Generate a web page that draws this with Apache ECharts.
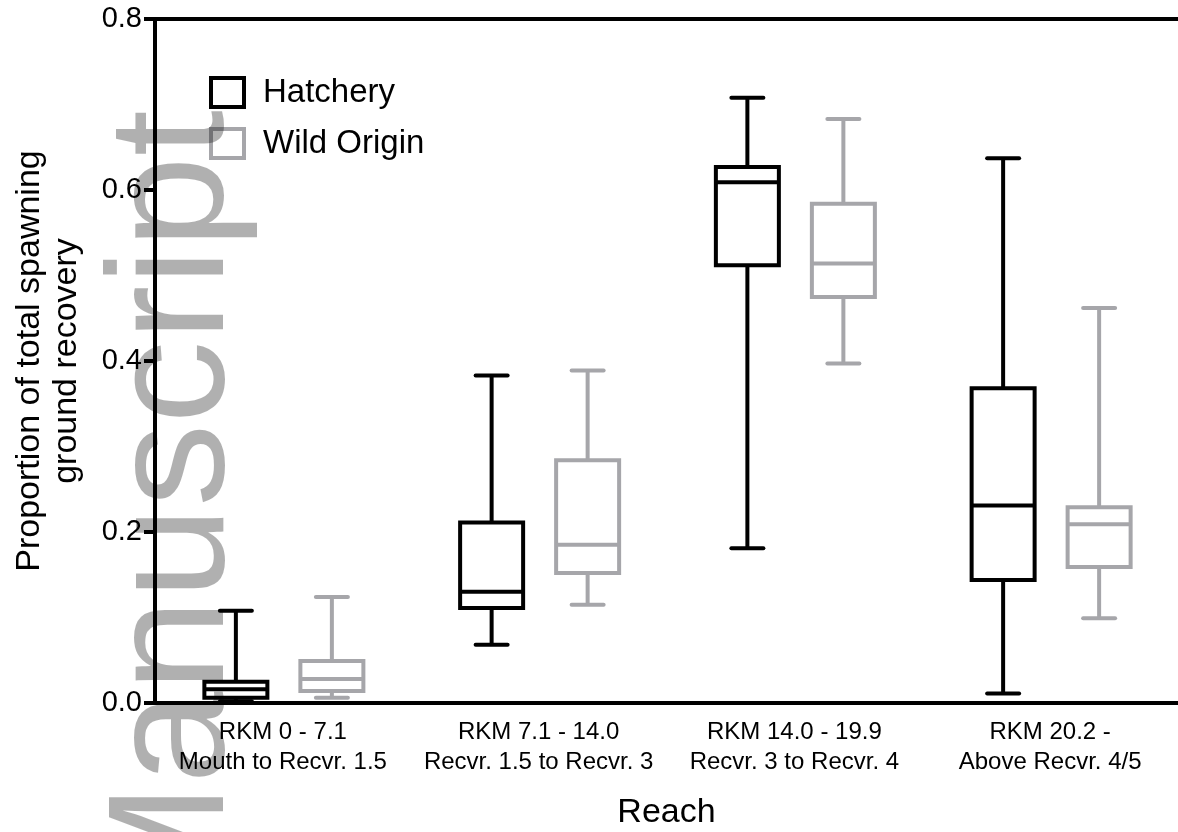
<!DOCTYPE html>
<html>
<head>
<meta charset="utf-8">
<script src="https://cdn.jsdelivr.net/npm/echarts@6/dist/echarts.min.js"></script>
<style>
html,body{margin:0;padding:0;background:#fff;}
#chart{width:1178px;height:832px;}
</style>
</head>
<body>
<div id="chart"></div>
<script>
// ---- data ----
var categories = [
  'RKM 0 - 7.1\nMouth to Recvr. 1.5',
  'RKM 7.1 - 14.0\nRecvr. 1.5 to Recvr. 3',
  'RKM 14.0 - 19.9\nRecvr. 3 to Recvr. 4',
  'RKM 20.2 -\nAbove Recvr. 4/5'
];
// [min, Q1, median, Q3, max]
var hatchery = [
  [0.002, 0.006, 0.016, 0.025, 0.108],
  [0.068, 0.111, 0.130, 0.211, 0.383],
  [0.181, 0.512, 0.609, 0.627, 0.708],
  [0.011, 0.144, 0.231, 0.368, 0.637]
];
var wild = [
  [0.006, 0.014, 0.028, 0.049, 0.124],
  [0.115, 0.152, 0.185, 0.284, 0.389],
  [0.397, 0.475, 0.514, 0.584, 0.683],
  [0.099, 0.159, 0.209, 0.229, 0.462]
];
var seriesNames = ['Hatchery', 'Wild Origin'];
var yTicks = [0, 0.2, 0.4, 0.6, 0.8];

// ---- styling ----
var FONT = '"Liberation Sans", Arial, Helvetica, sans-serif';
var BLACK = '#000000';
var GREY = '#a6a6aa';
var BOX_W = 63, CAP_W = 32, LW = 4;

function toRows(arr) {
  return arr.map(function (d, i) { return [i].concat(d); });
}

function makeRender(offset, color) {
  return function (params, api) {
    var c = api.value(0);
    var p = [1, 2, 3, 4, 5].map(function (k) { return api.coord([c, api.value(k)]); });
    var x = p[0][0] + offset;
    var yMin = p[0][1], yQ1 = p[1][1], yMed = p[2][1], yQ3 = p[3][1], yMax = p[4][1];
    var ls = { stroke: color, lineWidth: LW, fill: null };
    var cs = { stroke: color, lineWidth: LW, fill: null, lineCap: 'round' };
    return {
      type: 'group',
      children: [
        { type: 'line', shape: { x1: x, y1: yMax, x2: x, y2: yQ3 }, style: ls },
        { type: 'line', shape: { x1: x, y1: yQ1, x2: x, y2: yMin }, style: ls },
        { type: 'line', shape: { x1: x - CAP_W / 2, y1: yMax, x2: x + CAP_W / 2, y2: yMax }, style: cs },
        { type: 'line', shape: { x1: x - CAP_W / 2, y1: yMin, x2: x + CAP_W / 2, y2: yMin }, style: cs },
        { type: 'rect', shape: { x: x - BOX_W / 2, y: yQ3, width: BOX_W, height: yQ1 - yQ3 },
          style: { stroke: color, lineWidth: LW, fill: '#ffffff', lineJoin: 'miter' } },
        { type: 'line', shape: { x1: x - BOX_W / 2, y1: yMed, x2: x + BOX_W / 2, y2: yMed }, style: ls }
      ]
    };
  };
}

var chart = echarts.init(document.getElementById('chart'), null, { renderer: 'canvas' });
var option = {
  animation: false,
  backgroundColor: '#ffffff',
  textStyle: { fontFamily: FONT },
  grid: { left: 155, right: 0, top: 19, bottom: 129, containLabel: false, outerBoundsMode: 'none' },
  legend: {
    orient: 'vertical',
    left: 209, top: 76,
    padding: 0,
    itemWidth: 33, itemHeight: 29, itemGap: 18,
    icon: 'rect',
    textStyle: { fontSize: 33, color: '#000', fontFamily: FONT, padding: [0, 0, 0, 14] },
    data: [
      { name: seriesNames[0], itemStyle: { color: '#ffffff', borderColor: BLACK, borderWidth: LW } },
      { name: seriesNames[1], itemStyle: { color: '#ffffff', borderColor: GREY, borderWidth: LW } }
    ]
  },
  xAxis: [{
    type: 'category',
    data: categories,
    boundaryGap: true,
    name: 'Reach',
    nameLocation: 'middle',
    nameGap: 93,
    nameTextStyle: { fontSize: 34, color: '#000', fontFamily: FONT },
    axisLine: { lineStyle: { color: BLACK, width: LW } },
    axisTick: { alignWithLabel: true, length: 10, lineStyle: { color: BLACK, width: LW } },
    axisLabel: { fontSize: 24, lineHeight: 30, color: '#000', margin: 14, fontFamily: FONT, interval: 0 },
    splitLine: { show: false }
  }, {
    type: 'category',
    data: categories,
    position: 'top',
    axisLine: { lineStyle: { color: BLACK, width: LW } },
    axisTick: { show: false },
    axisLabel: { show: false },
    splitLine: { show: false }
  }],
  yAxis: {
    type: 'value',
    min: yTicks[0], max: yTicks[yTicks.length - 1], interval: 0.2,
    name: 'Proportion of total spawning\nground recovery',
    nameLocation: 'middle',
    nameGap: 70,
    nameRotate: 90,
    nameTextStyle: { fontSize: 34, lineHeight: 37, color: '#000', fontFamily: FONT, align: 'center' },
    axisLine: { show: true, lineStyle: { color: BLACK, width: LW } },
    axisTick: { show: true, length: 11, lineStyle: { color: BLACK, width: LW } },
    axisLabel: { fontSize: 29, color: '#000', margin: 13, fontFamily: FONT,
      formatter: function (v) { return v.toFixed(1); } },
    splitLine: { show: false }
  },
  series: [{
    name: seriesNames[0],
    type: 'custom',
    renderItem: makeRender(-47, BLACK),
    itemStyle: { color: '#ffffff', borderColor: BLACK, borderWidth: LW },
    encode: { x: 0, y: [1, 2, 3, 4, 5] },
    data: toRows(hatchery),
    z: 3
  }, {
    name: seriesNames[1],
    type: 'custom',
    renderItem: makeRender(49, GREY),
    itemStyle: { color: '#ffffff', borderColor: GREY, borderWidth: LW },
    encode: { x: 0, y: [1, 2, 3, 4, 5] },
    data: toRows(wild),
    z: 3
  }],
  graphic: [{
    type: 'text',
    x: 177, y: 922,
    rotation: Math.PI / 2,
    z: 100,
    silent: true,
    style: {
      text: 'Manuscript',
      fontSize: 166,
      fontFamily: FONT,
      fill: 'rgba(0,0,0,0.31)',
      align: 'left',
      verticalAlign: 'middle'
    }
  }]
};
chart.setOption(option);
</script>
</body>
</html>
